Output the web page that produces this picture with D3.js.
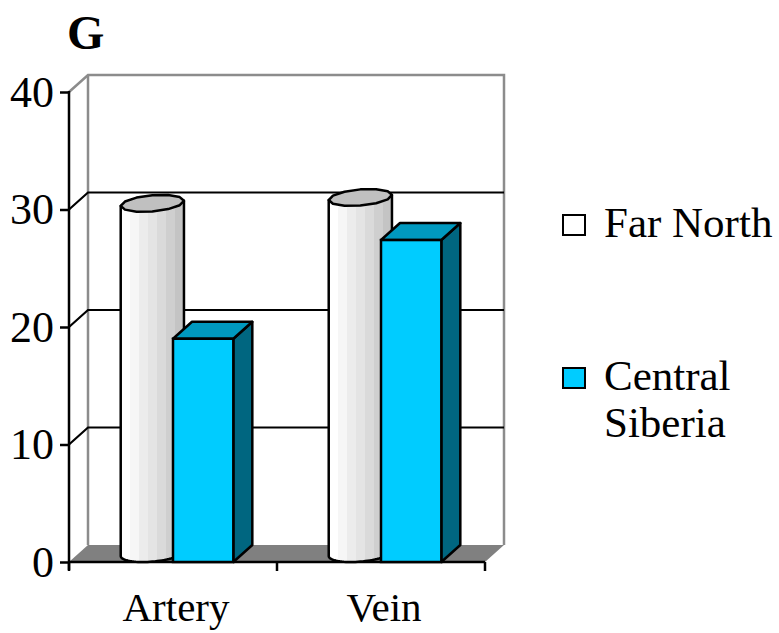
<!DOCTYPE html>
<html>
<head>
<meta charset="utf-8">
<script src="https://cdn.jsdelivr.net/npm/d3@7"></script>
<style>
  html, body { margin: 0; padding: 0; background: #fff; }
  svg { display: block; }
</style>
</head>
<body>
<svg id="chart" width="779" height="633"></svg>
<script>
// Data
const categories = ["Artery", "Vein"];
const seriesNames = ["Far North", "Central Siberia"];
const farNorth = [29.8, 30.3];
const centralSiberia = [19.0, 27.4];
const yTicks = [0, 10, 20, 30, 40];
const panelLabel = "G";

const seriesValues = [farNorth, centralSiberia];

(function () {
  const serif = '"Liberation Serif", "Times New Roman", Times, serif';
  const svg = d3.select("#chart");

  // Plot geometry (front plane) and oblique depth offset
  const plotLeft = 69, plotRight = 485, plotBottom = 562, plotTop = 92;
  const depth = { dx: 19, dy: -17 };

  const y = d3.scaleLinear().domain([0, 40]).range([plotBottom, plotTop]);
  const x0 = d3.scaleBand().domain(categories).range([plotLeft, plotRight])
    .paddingInner(0.42).paddingOuter(0.21);
  const x1 = d3.scaleBand().domain(seriesNames).range([0, x0.bandwidth()]);

  const g = svg.append("g");

  // Back wall
  const backTop = y(40) + depth.dy;
  const backBottom = y(0) + depth.dy;
  g.append("rect")
    .attr("x", plotLeft + depth.dx).attr("y", backTop)
    .attr("width", plotRight - plotLeft).attr("height", backBottom - backTop)
    .attr("fill", "#fff");

  // Floor
  g.append("path")
    .attr("d", d3.line()([
      [plotLeft, y(0)], [plotRight, y(0)],
      [plotRight + depth.dx, y(0) + depth.dy], [plotLeft + depth.dx, y(0) + depth.dy]
    ]) + "Z")
    .attr("fill", "#808080");

  // Wall outlines (grey)
  const grey = "#8c8c8c";
  g.append("path")
    .attr("d", d3.line()([
      [plotLeft, y(40)], [plotLeft + depth.dx, backTop],
      [plotRight + depth.dx, backTop], [plotRight + depth.dx, backBottom]
    ]))
    .attr("fill", "none").attr("stroke", grey).attr("stroke-width", 2.5);
  g.append("line")
    .attr("x1", plotLeft + depth.dx).attr("x2", plotLeft + depth.dx)
    .attr("y1", backTop).attr("y2", backBottom)
    .attr("stroke", grey).attr("stroke-width", 2.5);

  // Gridlines on side and back walls
  yTicks.filter(v => v > 0 && v < 40).forEach(v => {
    g.append("path")
      .attr("d", d3.line()([
        [plotLeft, y(v)], [plotLeft + depth.dx, y(v) + depth.dy], [plotRight + depth.dx, y(v) + depth.dy]
      ]))
      .attr("fill", "none").attr("stroke", "#000").attr("stroke-width", 2.2);
  });

  // Floor front edge
  g.append("line")
    .attr("x1", plotLeft).attr("x2", plotRight)
    .attr("y1", y(0)).attr("y2", y(0))
    .attr("stroke", "#000").attr("stroke-width", 2.5);

  // Cylinder shading in vertical bands
  const defs = svg.append("defs");
  const grad = defs.append("linearGradient").attr("id", "cyl")
    .attr("x1", "0").attr("x2", "1").attr("y1", "0").attr("y2", "0");
  const bands = ["#ffffff", "#f6f6f6", "#ececec", "#e4e4e4", "#dadada", "#cfcfcf", "#c4c4c4"];
  bands.forEach((c, i) => {
    grad.append("stop").attr("offset", i / bands.length).attr("stop-color", c);
    grad.append("stop").attr("offset", (i + 1) / bands.length).attr("stop-color", c);
  });

  const boxFront = "#00ccff", boxTop = "#0099bf", boxSide = "#006680";
  const strokeW = 2.5;

  function ellipsePoint(cx, cy, r, t) {
    return [cx + r * Math.cos(t) + (depth.dx / 2) * Math.sin(t),
            cy + (depth.dy / 2) * Math.sin(t)];
  }

  function drawCylinder(xLeft, w, v) {
    const r = w / 2;
    const cx = xLeft + r + depth.dx / 2;
    const cyTop = y(v) + depth.dy / 2;
    const cyBot = y(0) + depth.dy / 2;
    const phi = Math.atan2(depth.dx / 2, r);
    const tL = Math.PI + phi, tR = 2 * Math.PI + phi;
    const n = 40;
    const frontArc = d3.range(n + 1).map(i => tL + (tR - tL) * i / n);
    const bodyPts = [ellipsePoint(cx, cyTop, r, tL)]
      .concat(frontArc.map(t => ellipsePoint(cx, cyBot, r, t)))
      .concat([ellipsePoint(cx, cyTop, r, tR)]);
    g.append("path")
      .attr("d", d3.line()(bodyPts) + "Z")
      .attr("fill", "url(#cyl)")
      .attr("stroke", "#000").attr("stroke-width", strokeW)
      .attr("stroke-linejoin", "round");
    // Top cap drawn as a faceted polygon
    const facets = 12;
    const topPts = d3.range(facets).map(i => ellipsePoint(cx, cyTop, r, phi + 2 * Math.PI * i / facets));
    g.append("path")
      .attr("d", d3.line()(topPts) + "Z")
      .attr("fill", "#c0c0c0")
      .attr("stroke", "#000").attr("stroke-width", strokeW)
      .attr("stroke-linejoin", "round");
  }

  function drawBox(xLeft, w, v) {
    const yv = y(v), yb = y(0);
    const xr = xLeft + w;
    g.append("path")
      .attr("d", d3.line()([[xr, yv], [xr + depth.dx, yv + depth.dy], [xr + depth.dx, yb + depth.dy], [xr, yb]]) + "Z")
      .attr("fill", boxSide).attr("stroke", "#000").attr("stroke-width", strokeW)
      .attr("stroke-linejoin", "round");
    g.append("path")
      .attr("d", d3.line()([[xLeft, yv], [xr, yv], [xr + depth.dx, yv + depth.dy], [xLeft + depth.dx, yv + depth.dy]]) + "Z")
      .attr("fill", boxTop).attr("stroke", "#000").attr("stroke-width", strokeW)
      .attr("stroke-linejoin", "round");
    g.append("rect")
      .attr("x", xLeft).attr("y", yv).attr("width", w).attr("height", yb - yv)
      .attr("fill", boxFront).attr("stroke", "#000").attr("stroke-width", strokeW);
  }

  categories.forEach((cat, ci) => {
    const bx = x0(cat);
    drawCylinder(bx + x1(seriesNames[0]), x1.bandwidth(), seriesValues[0][ci]);
    drawBox(bx + x1(seriesNames[1]), x1.bandwidth(), seriesValues[1][ci]);
  });

  // Value axis
  const yAxis = d3.axisLeft(y).tickValues(yTicks).tickSize(9).tickPadding(6);
  const ya = svg.append("g").attr("transform", `translate(${plotLeft},0)`).call(yAxis);
  ya.attr("font-family", null).attr("font-size", null);
  ya.select(".domain").remove();
  ya.selectAll(".tick line").attr("stroke", "#000").attr("stroke-width", 2.5);
  ya.selectAll(".tick text")
    .style("font-family", serif)
    .style("font-size", "44px").attr("fill", "#000");
  svg.append("line")
    .attr("x1", plotLeft).attr("x2", plotLeft).attr("y1", y(40) - 1).attr("y2", y(0) + 8)
    .attr("stroke", "#000").attr("stroke-width", 2.5);

  // Category axis: ticks between groups, labels centered
  const step = x0.step();
  d3.range(categories.length + 1).forEach(i => {
    const xt = plotLeft + i * step;
    svg.append("line").attr("x1", xt).attr("x2", xt)
      .attr("y1", y(0)).attr("y2", y(0) + 9)
      .attr("stroke", "#000").attr("stroke-width", 2.5);
  });
  svg.selectAll(".cat-label").data(categories).enter().append("text")
    .attr("class", "cat-label")
    .attr("x", d => x0(d) + x0.bandwidth() / 2 + 3)
    .attr("y", 621)
    .attr("text-anchor", "middle")
    .attr("fill", "#000")
    .style("font-family", serif)
    .style("font-size", "41px")
    .text(d => d);

  // Panel label
  svg.append("text").attr("x", 67).attr("y", 49)
    .attr("fill", "#000")
    .style("font-family", serif)
    .style("font-size", "48px").style("font-weight", "bold")
    .text(panelLabel);

  // Legend
  const legend = svg.append("g");
  const legendItems = [
    { lines: ["Far North"], fill: "#ffffff", y: 215 },
    { lines: ["Central", "Siberia"], fill: boxFront, y: 368 }
  ];
  legendItems.forEach(item => {
    legend.append("rect").attr("x", 563).attr("y", item.y).attr("width", 22).attr("height", 20)
      .attr("fill", item.fill).attr("stroke", "#000").attr("stroke-width", 2);
    item.lines.forEach((ln, i) => {
      legend.append("text").attr("x", 604).attr("y", item.y + 22 + i * 47)
        .attr("fill", "#000")
        .style("font-family", serif)
        .style("font-size", "43px").text(ln);
    });
  });
})();
</script>
</body>
</html>
